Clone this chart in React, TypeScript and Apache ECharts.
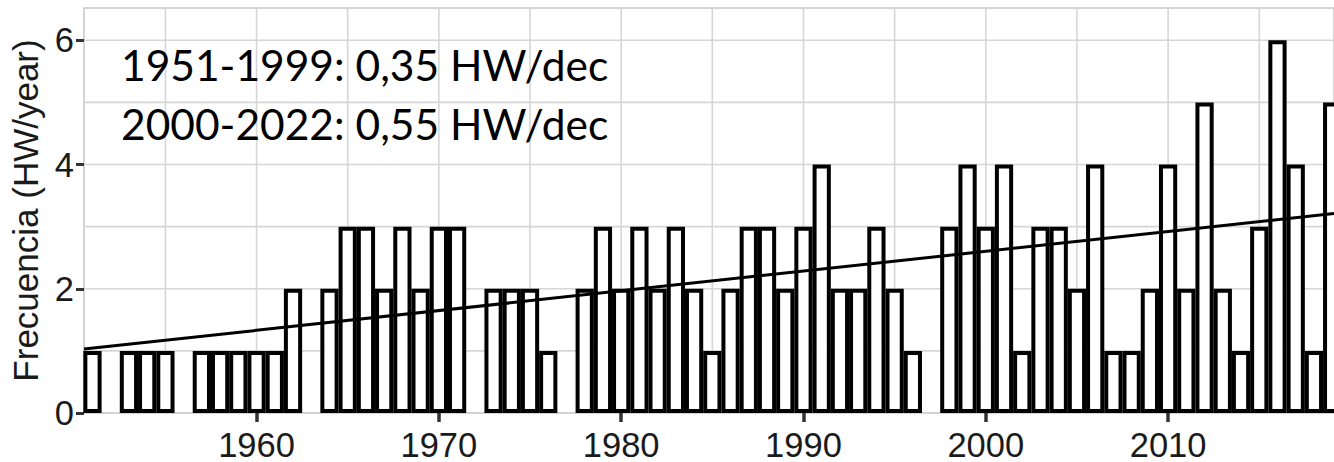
import React, { useEffect, useRef } from "react";
import * as echarts from "echarts";

// ---- data ----
const years = [
  1951, 1952, 1953, 1954, 1955, 1956, 1957, 1958, 1959, 1960,
  1961, 1962, 1963, 1964, 1965, 1966, 1967, 1968, 1969, 1970,
  1971, 1972, 1973, 1974, 1975, 1976, 1977, 1978, 1979, 1980,
  1981, 1982, 1983, 1984, 1985, 1986, 1987, 1988, 1989, 1990,
  1991, 1992, 1993, 1994, 1995, 1996, 1997, 1998, 1999, 2000,
  2001, 2002, 2003, 2004, 2005, 2006, 2007, 2008, 2009, 2010,
  2011, 2012, 2013, 2014, 2015, 2016, 2017, 2018, 2019,
];
const counts = [
  1, 0, 1, 1, 1, 0, 1, 1, 1, 1,
  1, 2, 0, 2, 3, 3, 2, 3, 2, 3,
  3, 0, 2, 2, 2, 1, 0, 2, 3, 2,
  3, 2, 3, 2, 1, 2, 3, 3, 2, 3,
  4, 2, 2, 3, 2, 1, 0, 3, 4, 3,
  4, 1, 3, 3, 2, 4, 1, 1, 2, 4,
  2, 5, 2, 1, 3, 6, 4, 1, 5,
];
const xTickYears = [1960, 1970, 1980, 1990, 2000, 2010];
const xGridYears = [1955, 1960, 1965, 1970, 1975, 1980, 1985, 1990, 1995, 2000, 2005, 2010, 2015];
const yTicks = [0, 2, 4, 6];
const yGridValues = [1, 2, 3, 4, 5, 6];
const trendYears = [1950.535, 2019.1];
const trendValues = [1.03, 3.21];
const annotationLines = ["1951-1999: 0,35 HW/dec", "2000-2022: 0,55 HW/dec"];
const yTitle = "Frecuencia (HW/year)";

const X_MIN = 1950.535;
const X_MAX = 2019.1;
const Y_MAX = 6.52;

const W = 1334;
const H = 462;
const GRID_LEFT = 84;
const GRID_RIGHT = -1;
const GRID_TOP = 8;
const GRID_BOTTOM = 44.5;

export default function App() {
  const ref = useRef<HTMLDivElement>(null);

  useEffect(() => {
    if (!ref.current) return;
    const chart = echarts.init(ref.current, undefined, { renderer: "svg" });
    const plotW = W - GRID_LEFT - GRID_RIGHT;
    const barW = plotW / (X_MAX - X_MIN);

    const barData = years
      .map((y, i) => [y, counts[i]])
      .filter((d) => d[1] > 0);

    const gridStyle = { stroke: "#d6d6d6", lineWidth: 1.6 };

    chart.setOption({
      animation: false,
      grid: {
        left: GRID_LEFT,
        right: GRID_RIGHT,
        top: GRID_TOP,
        bottom: GRID_BOTTOM,
        show: true,
        borderColor: "#c6c6c6",
        borderWidth: 1.5,
        backgroundColor: "#ffffff",
      },
      xAxis: {
        type: "value",
        min: X_MIN,
        max: X_MAX,
        axisLine: { show: false },
        splitLine: { show: false },
        axisTick: {
          show: true,
          customValues: xTickYears,
          length: 9,
          lineStyle: { color: "#333333", width: 3.5 },
        },
        axisLabel: {
          customValues: xTickYears,
          formatter: (v: number) => String(Math.round(v)),
          fontFamily: "Liberation Sans",
          fontSize: 34.5,
          color: "#1a1a1a",
          margin: 14,
        },
      },
      yAxis: {
        type: "value",
        min: 0,
        max: Y_MAX,
        axisLine: { show: false },
        splitLine: { show: false },
        axisTick: {
          show: true,
          customValues: yTicks,
          length: 8,
          lineStyle: { color: "#333333", width: 3 },
        },
        axisLabel: {
          customValues: yTicks,
          formatter: (v: number) => String(Math.round(v)),
          fontFamily: "Liberation Sans",
          fontSize: 34.5,
          color: "#1a1a1a",
          margin: 10,
        },
        name: yTitle,
        nameLocation: "middle",
        nameRotate: 90,
        nameGap: 41,
        nameTextStyle: {
          fontFamily: "Liberation Sans",
          fontSize: 35,
          color: "#1a1a1a",
        },
      },
      series: [
        {
          type: "custom",
          z: 1,
          silent: true,
          data: xGridYears.map((v) => [v, 0]),
          renderItem: (params: any, api: any) => {
            const cs = params.coordSys;
            const x = api.coord([api.value(0), 0])[0];
            return {
              type: "line",
              shape: { x1: x, y1: cs.y, x2: x, y2: cs.y + cs.height },
              style: gridStyle,
            };
          },
        },
        {
          type: "custom",
          z: 1,
          silent: true,
          data: yGridValues.map((v) => [X_MIN, v]),
          renderItem: (params: any, api: any) => {
            const cs = params.coordSys;
            const y = api.coord([X_MIN, api.value(1)])[1];
            return {
              type: "line",
              shape: { x1: cs.x, y1: y, x2: cs.x + cs.width, y2: y },
              style: gridStyle,
            };
          },
        },
        {
          type: "bar",
          z: 2,
          barWidth: barW,
          data: barData,
          itemStyle: {
            color: "#ffffff",
            borderColor: "#000000",
            borderWidth: 4,
          },
          emphasis: { disabled: true },
        },
        {
          type: "line",
          z: 3,
          data: trendYears.map((y, i) => [y, trendValues[i]]),
          showSymbol: false,
          symbol: "none",
          lineStyle: { color: "#000000", width: 3 },
          silent: true,
        },
      ],
      graphic: annotationLines.map((t, i) => ({
        type: "text",
        x: 121,
        y: 64.5 + i * 59,
        z: 10,
        style: {
          text: t,
          fontFamily: "Lato",
          fontSize: 42.5,
          fill: "#000000",
          align: "left",
          verticalAlign: "middle",
          textAlign: "left",
          textVerticalAlign: "middle",
        },
      })),
    });

    return () => chart.dispose();
  }, []);

  return (
    <div
      ref={ref}
      style={{ position: "fixed", left: 0, top: 0, width: W, height: H, background: "#fff" }}
    />
  );
}
